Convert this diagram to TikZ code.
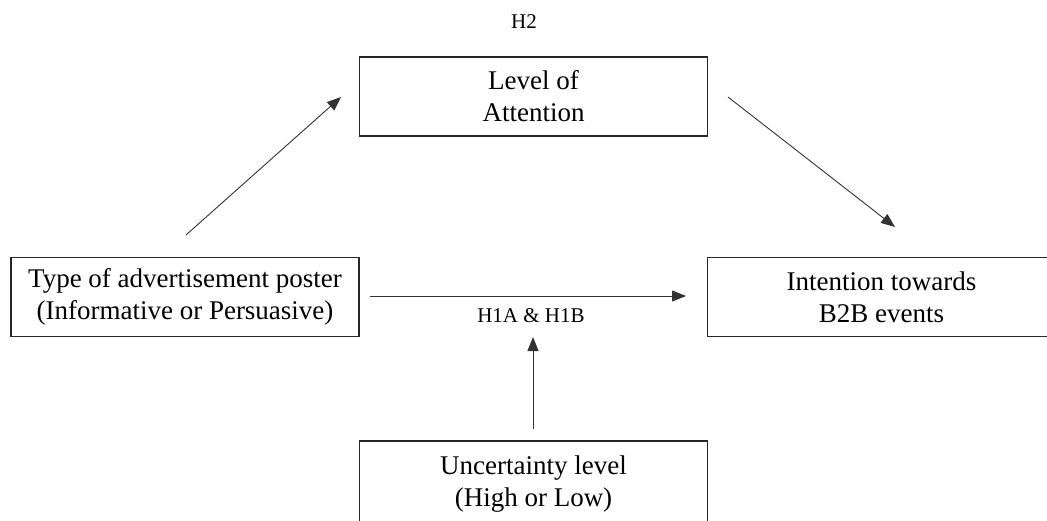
\documentclass[tikz,border=0pt]{standalone}
\usepackage{fontspec}
\setmainfont{Liberation Serif}
\usetikzlibrary{arrows.meta}
\begin{document}
\begin{tikzpicture}[x=1pt,y=-1pt,
  box/.style={draw=black!85, line width=1.1pt, minimum width=348pt, minimum height=79pt,
    align=center, inner sep=0pt, font=\fontsize{27}{32}\selectfont},
  lbl/.style={inner sep=0pt, font=\fontsize{21}{24}\selectfont},
  arr/.style={draw=black!80, line width=0.9pt, -{Triangle[length=14pt,width=11pt]}}]
\useasboundingbox (0,0) rectangle (1047,520);
\clip (0,0) rectangle (1047,520);
\fill[white] (0,0) rectangle (1047,520);
\node[box] (poster) at (185,297) {Type of advertisement poster\\(Informative or Persuasive)};
\node[box] (attention) at (533.5,96.5) {Level of\\Attention};
\node[box] (intention) at (881.5,297) {Intention towards\\B2B events};
\node[box, minimum height=86pt] (uncert) at (533.5,484) {Uncertainty level\\(High or Low)};
\node[lbl] (h2) at (524,22) {H2};
\node[lbl] (h1) at (531,316) {H1A \& H1B};
\coordinate (a1s) at (186,235);
\coordinate (a1e) at (341,97);
\coordinate (a2s) at (728,97);
\coordinate (a2e) at (895,227);
\coordinate (a3s) at (370,296);
\coordinate (a3e) at (686,296);
\coordinate (a4s) at (533,429);
\coordinate (a4e) at (533,337);
\draw[arr] (a1s) -- (a1e);
\draw[arr] (a2s) -- (a2e);
\draw[arr] (a3s) -- (a3e);
\draw[arr] (a4s) -- (a4e);
\end{tikzpicture}
\end{document}
